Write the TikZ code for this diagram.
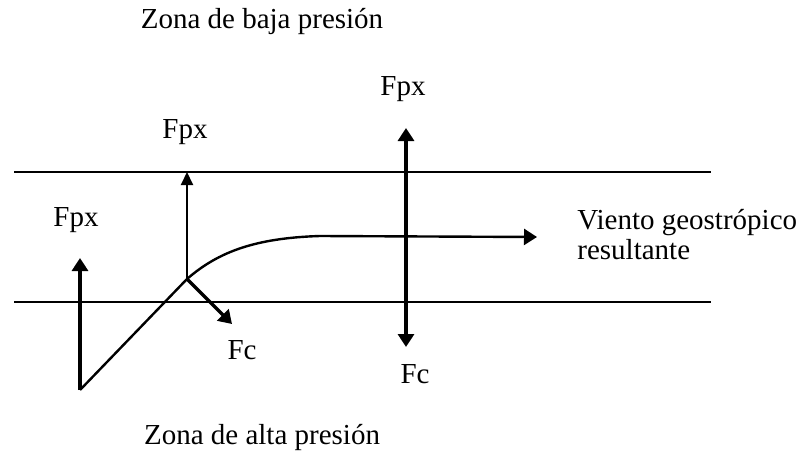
\documentclass[tikz,border=0pt]{standalone}
\usepackage{fontspec}
\setmainfont{Liberation Serif}
\usetikzlibrary{arrows.meta}
\tikzset{
  every node/.style={font=\fontsize{14.5}{15}\selectfont,inner sep=0pt},
  isobar/.style={line width=0.9pt},
  force/.style={line width=1.6pt,-{Triangle[length=6.5pt,width=8pt]}},
  bothforce/.style={line width=1.6pt,{Triangle[length=6.5pt,width=8pt]}-{Triangle[length=6.5pt,width=8pt]}},
  thinforce/.style={line width=1pt,-{Triangle[length=6.5pt,width=6pt]}},
  wind/.style={line width=1.2pt,-{Triangle[length=6.5pt,width=8pt]}},
  lbl/.style={align=left},
}

\begin{document}
\begin{tikzpicture}[x=0.5pt,y=-0.5pt]
  \useasboundingbox (0,0) rectangle (802,460);

  % isobars
  \coordinate (lowW) at (14,172);  \coordinate (lowE) at (711,172);
  \coordinate (highW) at (14,302); \coordinate (highE) at (711,302);
  \draw[isobar] (lowW) -- (lowE);
  \draw[isobar] (highW) -- (highE);

  \node (low) at (262,22) {Zona de baja presión};
  \node (high) at (262,437) {Zona de alta presión};

  % wind path
  \coordinate (start) at (80,390);
  \coordinate (knee) at (187,279);
  \coordinate (bend) at (320,236);
  \coordinate (windtip) at (537,237);
  \draw[wind] (start) -- (knee) .. controls (218,252) and (255,238) .. (bend) -- (windtip);
  \node[lbl,anchor=west] (result) at (577,235) {Viento geostrópico\\resultante};

  % forces
  \coordinate (tipA) at (80,258);
  \draw[force] (start) -- (tipA);
  \node (fpxA) at (76,220) {Fpx};

  \coordinate (tipB) at (187,172);
  \coordinate (tipC) at (232,324);
  \draw[thinforce] (knee) -- (tipB);
  \draw[force] (knee) -- (tipC);
  \node (fpxB) at (185,132) {Fpx};
  \node (fcB) at (242,350) {Fc};

  \coordinate (topD) at (406,128);
  \coordinate (botD) at (406,347);
  \draw[bothforce] (topD) -- (botD);
  \node (fpxD) at (403,89) {Fpx};
  \node (fcD) at (415,374) {Fc};
\end{tikzpicture}
\end{document}
